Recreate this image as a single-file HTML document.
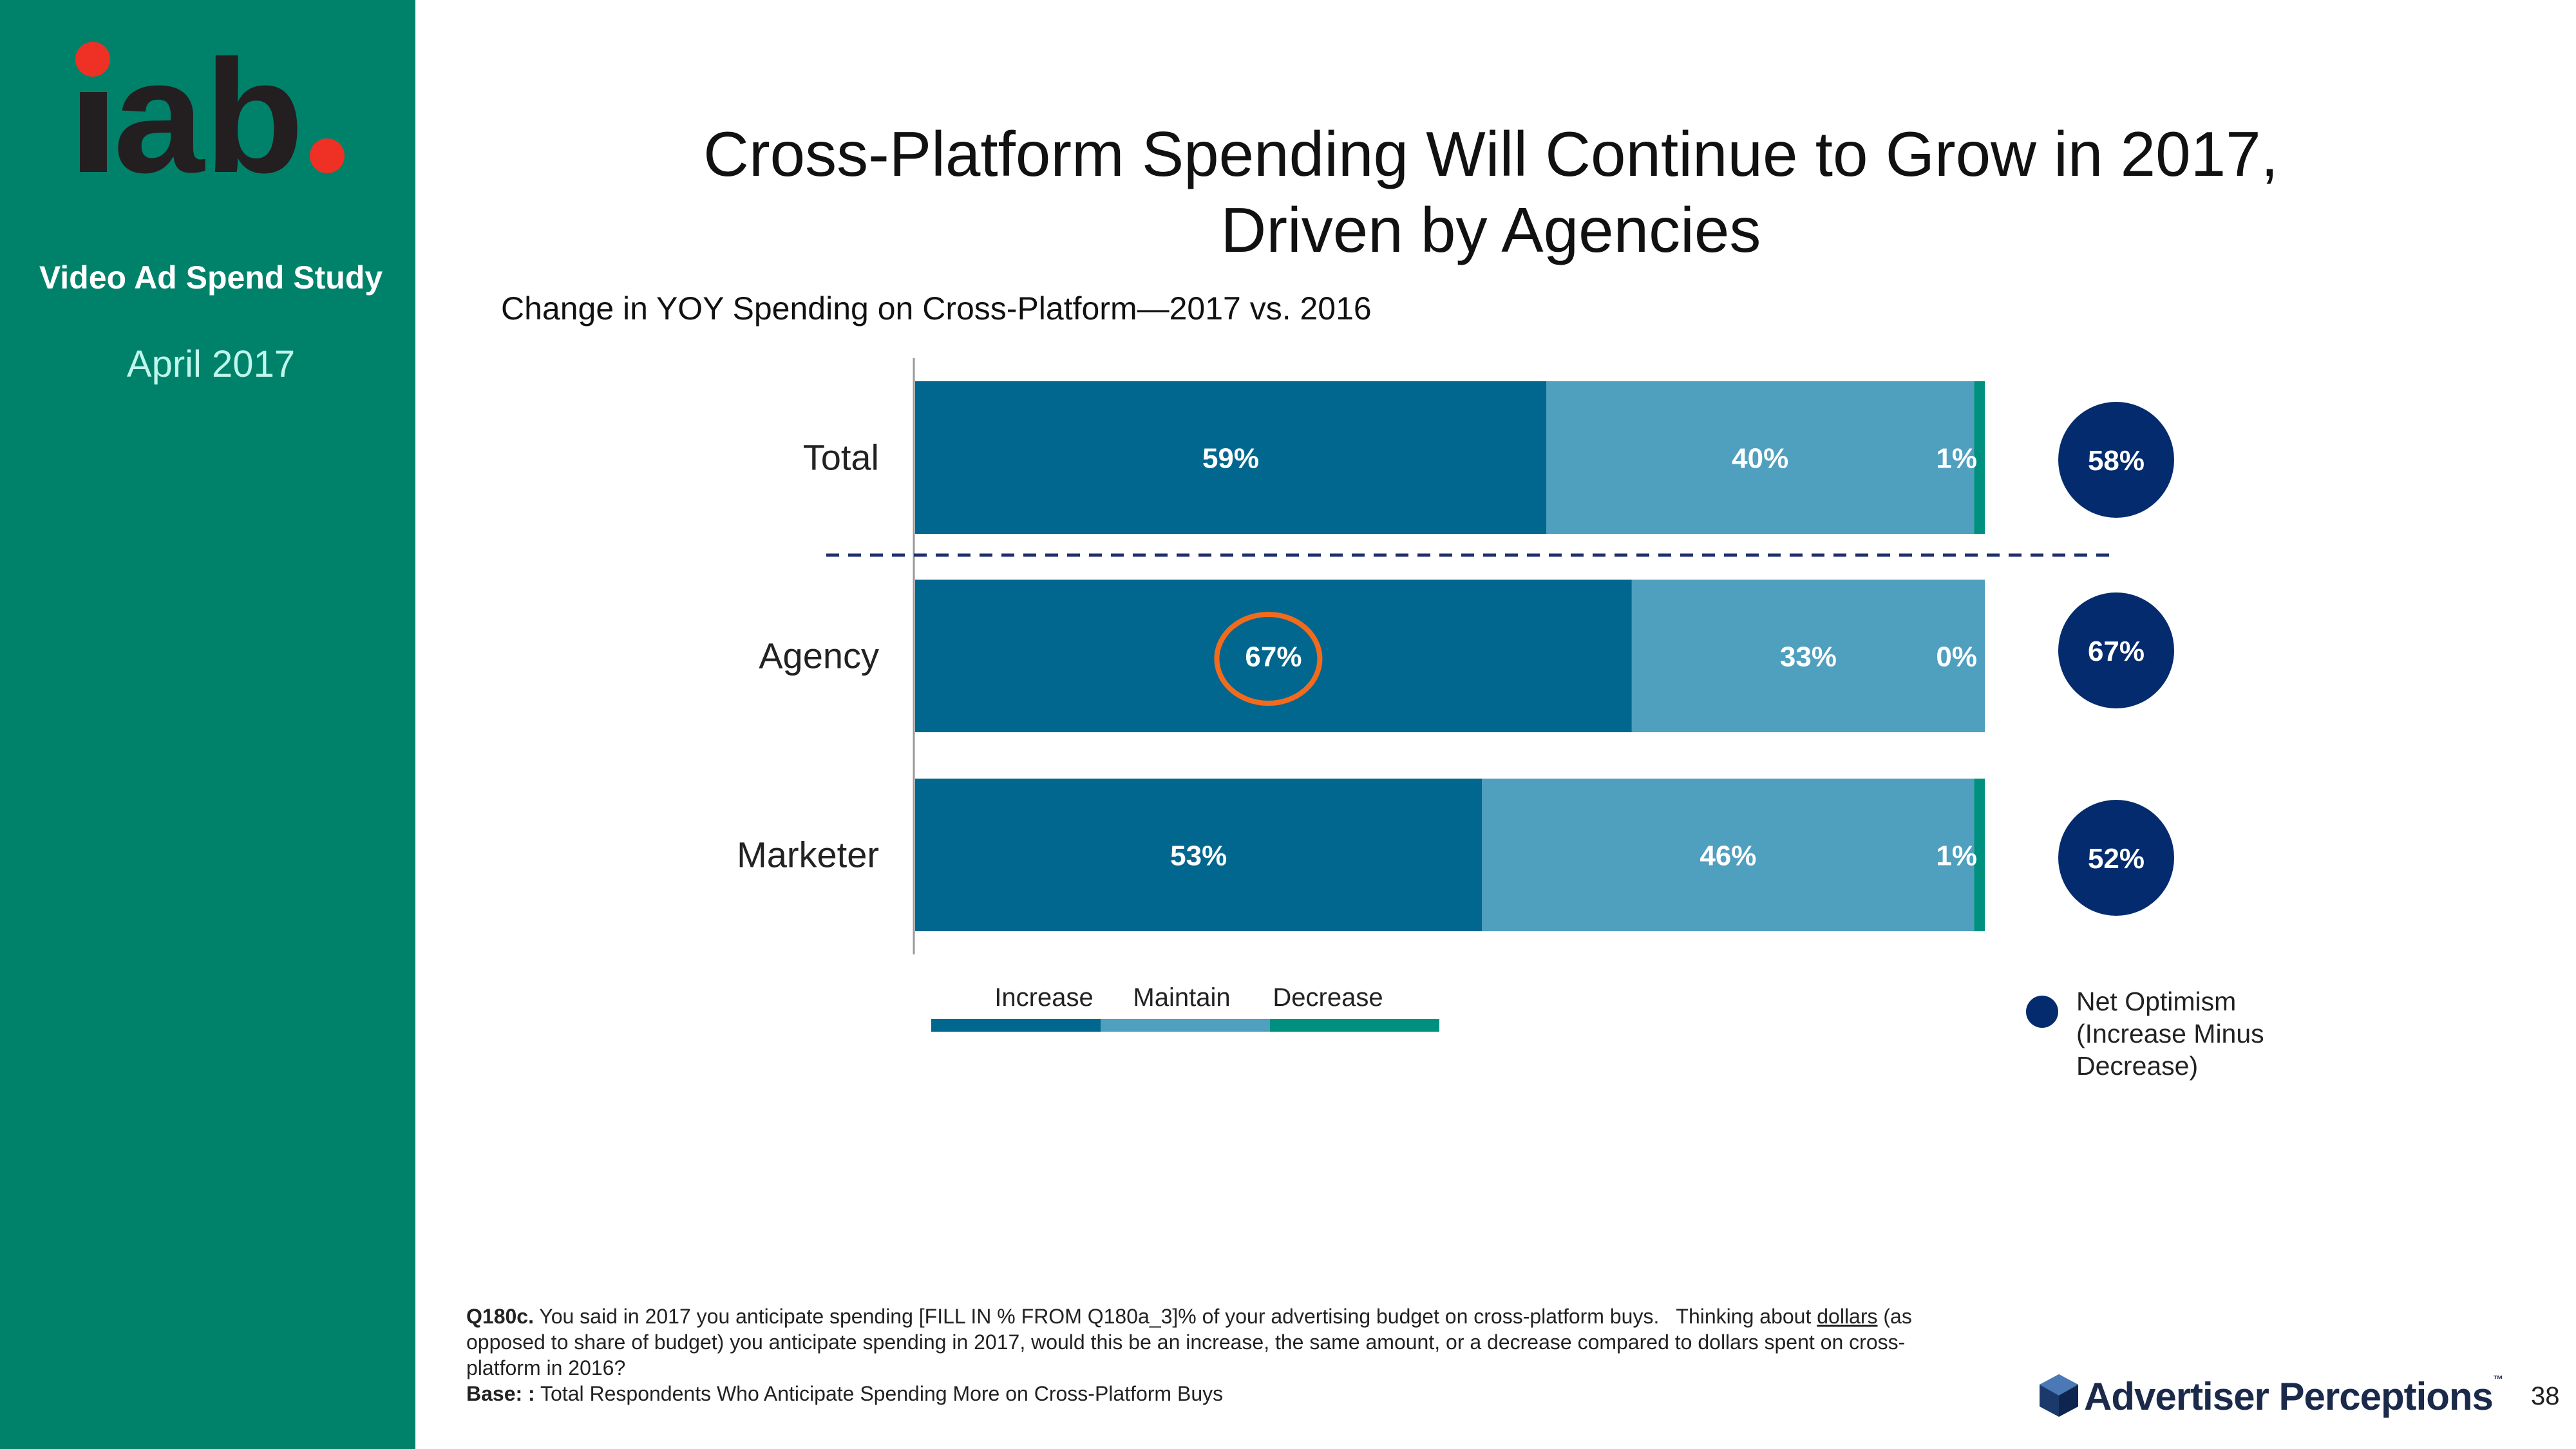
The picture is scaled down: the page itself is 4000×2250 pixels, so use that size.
<!DOCTYPE html>
<html><head><meta charset="utf-8"><style>
body{margin:0;width:4000px;height:2250px;background:#fff;position:relative;overflow:hidden;font-family:"Liberation Sans",sans-serif}
.abs{position:absolute}
</style></head><body>
<div class="abs" style="left:0;top:0;width:645px;height:2250px;background:#00826A"></div>
<svg class="abs" style="left:0;top:0" width="645" height="330">
<circle cx="144" cy="92" r="27" fill="#EE3124"/>
<rect x="124" y="143" width="42" height="124" fill="#231F20"/>
<text x="176" y="267" font-family="Liberation Sans" font-weight="bold" font-size="250" fill="#231F20" textLength="296" lengthAdjust="spacingAndGlyphs">ab</text>
<circle cx="508" cy="242" r="27" fill="#EE3124"/>
</svg>
<div class="abs" style="left:0;width:655px;top:402px;text-align:center;color:#fff;font-weight:bold;font-size:50px">Video Ad Spend Study</div>
<div class="abs" style="left:0;width:655px;top:532px;text-align:center;color:#BFF7EC;font-size:58px">April 2017</div>
<div class="abs" style="left:900px;width:2830px;top:180px;text-align:center;font-size:98px;line-height:118px;color:#111">Cross-Platform Spending Will Continue to Grow in 2017,<br>Driven by Agencies</div>
<div class="abs" style="left:778px;top:450px;font-size:50px;color:#111">Change in YOY Spending on Cross-Platform—2017 vs. 2016</div>
<svg id="chart" class="abs" style="left:0;top:0" width="4000" height="1800"></svg>
<div class="abs" style="left:3146px;top:1546px">
<div style="position:absolute;left:0;top:0;width:50px;height:50px;border-radius:50%;background:#032B6E"></div>
<div style="position:absolute;left:78px;top:-16px;font-size:41px;line-height:50px;color:#222;width:400px">Net Optimism<br>(Increase Minus<br>Decrease)</div>
</div>
<div class="abs" style="left:724px;top:2024px;width:2330px;font-size:32px;line-height:40px;color:#222"><b>Q180c.</b> You said in 2017 you anticipate spending [FILL IN % FROM Q180a_3]% of your advertising budget on cross-platform buys.&nbsp;&nbsp; Thinking about <u>dollars</u> (as opposed to share of budget) you anticipate spending in 2017, would this be an increase, the same amount, or a decrease compared to dollars spent on cross-platform in 2016?<br><b>Base: :</b> Total Respondents Who Anticipate Spending More on Cross-Platform Buys</div>
<svg class="abs" style="left:3165px;top:2130px" width="80" height="80"><polygon points="32,4 62,20 62,54 32,70 2,54 2,20" fill="#1B3A6B"/><polygon points="32,4 62,20 32,37 2,20" fill="#4A79B5"/><polygon points="32,37 62,20 62,54 32,70" fill="#0E2550"/></svg>
<div class="abs" style="left:3236px;top:2134px;font-size:60px;font-weight:bold;color:#1B2A4A;letter-spacing:-1px">Advertiser Perceptions<span style="font-size:16px;vertical-align:top">™</span></div>
<div class="abs" style="left:3930px;top:2146px;font-size:40px;color:#222">38</div>
<script>
const categories=["Total","Agency","Marketer"];
const increase=[59,67,53];
const maintain=[40,33,46];
const decrease=[1,0,1];
const netOptimism=[58,67,52];
const legendLabels=["Increase","Maintain","Decrease"];
const colors=["#02678F","#4F9FBF","#009080"];
const NS="http://www.w3.org/2000/svg";
const svg=document.getElementById("chart");
const x0=1421,pxPer=16.61;
const x=v=>x0+v*pxPer;
const barTops=[592,900,1209],barH=237;
function el(t,a,p){const e=document.createElementNS(NS,t);for(const k in a)e.setAttribute(k,a[k]);(p||svg).appendChild(e);return e;}
const axis=el("line",{x1:1419,y1:556,x2:1419,y2:1482,stroke:"#999","stroke-width":3});


const dash=el("line",{x1:1283,y1:862,x2:3276,y2:862,stroke:"#1F2F6E","stroke-width":5,"stroke-dasharray":"20 14"});


categories.forEach((c,i)=>{
  const y=barTops[i],cy=y+barH/2;
  const lab=el("text",{x:1365,y:cy+19,"text-anchor":"end","font-size":56,fill:"#222","font-family":"Liberation Sans"});
  lab.textContent=c;
  
  
  const vals=[increase[i],maintain[i],decrease[i]];
  let acc=0;
  vals.forEach((v,j)=>{
    const r=el("rect",{x:x(acc),y:y,width:Math.max(0,x(acc+v)-x(acc)),height:barH,fill:colors[j]});
    
    
    const t=el("text",{y:cy+16,"font-size":44,"font-weight":"bold",fill:"#fff","font-family":"Liberation Sans"});
    if(j<2){t.setAttribute("x",(x(acc)+x(acc+v))/2);t.setAttribute("text-anchor","middle");}
    else{t.setAttribute("x",x(100)-12);t.setAttribute("text-anchor","end");}
    t.textContent=v+"%";
    
    
    acc+=v;
  });
  const ncy=[714,1010,1332][i];
  const circ=el("circle",{cx:3286,cy:ncy,r:90,fill:"#032B6E"});
  
  
  const nt=el("text",{x:3286,y:ncy+16,"text-anchor":"middle","font-size":44,"font-weight":"bold",fill:"#fff","font-family":"Liberation Sans"});
  nt.textContent=netOptimism[i]+"%";
  
  
});
const hl=el("ellipse",{cx:(x(0)+x(increase[1]))/2-8,cy:1023,rx:80,ry:69,fill:"none",stroke:"#F26B1D","stroke-width":8});


legendLabels.forEach((l,j)=>{
  const lx=1446+j*263;
  const r=el("rect",{x:lx,y:1582,width:263,height:20,fill:colors[j]});
  
  
  const t=el("text",{x:[1621,1835,2062][j],y:1562,"text-anchor":"middle","font-size":40,fill:"#222","font-family":"Liberation Sans"});
  t.textContent=l;
  
  
});
</script>
</body></html>
